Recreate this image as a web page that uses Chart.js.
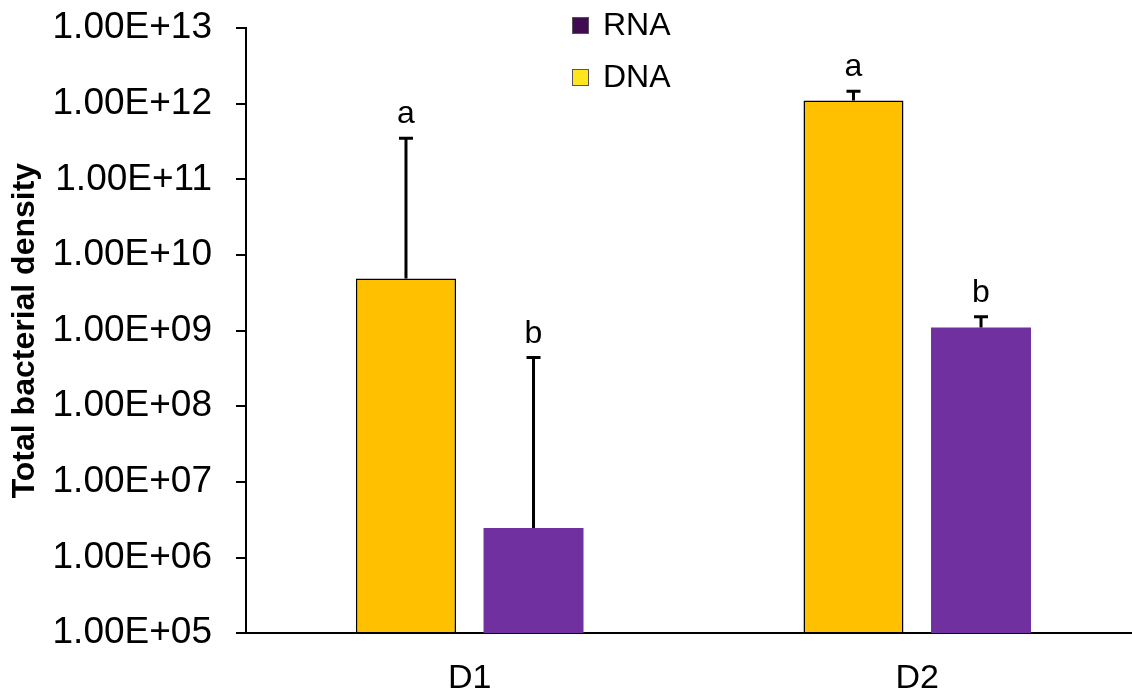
<!DOCTYPE html>
<html>
<head>
<meta charset="utf-8">
<script src="https://cdn.jsdelivr.net/npm/chart.js@4"></script>
<style>
  html, body { margin: 0; padding: 0; background: #fff; }
  #wrap { width: 1132px; height: 698px; }
</style>
</head>
<body>
<div id="wrap"><canvas id="chart"></canvas></div>
<script>
const categories = ['D1', 'D2']
const dnaValues = [4.9e9, 1.1e12]
const dnaErr = [3.44e11, 3.6e11]
const dnaLetters = ['a', 'a']
const rnaValues = [2.46e6, 1.1e9]
const rnaErr = [4.37e8, 4.3e8]
const rnaLetters = ['b', 'b']
const yTicks = [1e5, 1e6, 1e7, 1e8, 1e9, 1e10, 1e11, 1e12, 1e13]

const FONT = '"Liberation Sans", Arial, sans-serif'

// the original plot runs a little past the right edge of the picture
const widenPlot = {
  id: 'widenPlot',
  afterLayout(chart) {
    const x = chart.scales.x
    const extra = 9
    x.right += extra
    x.width += extra
    x.configure()
    chart.chartArea.right += extra
    chart.chartArea.width += extra
  }
}

// error bars (upper side only) and the letters above them
const errorBars = {
  id: 'errorBars',
  afterDatasetsDraw(chart) {
    const ctx = chart.ctx
    const y = chart.scales.y
    chart.data.datasets.forEach((ds, di) => {
      const meta = chart.getDatasetMeta(di)
      meta.data.forEach((bar, i) => {
        const top = y.getPixelForValue(ds.data[i] + ds.errPlus[i])
        ctx.save()
        ctx.strokeStyle = '#000'
        ctx.lineWidth = 3
        ctx.beginPath()
        ctx.moveTo(bar.x, bar.y)
        ctx.lineTo(bar.x, top)
        ctx.moveTo(bar.x - 7, top)
        ctx.lineTo(bar.x + 7, top)
        ctx.stroke()
        ctx.fillStyle = '#000'
        ctx.font = '32px ' + FONT
        ctx.textAlign = 'center'
        ctx.textBaseline = 'alphabetic'
        ctx.fillText(ds.letters[i], bar.x, top - 15)
        ctx.restore()
      })
    })
  }
}

// legend drawn as in the original: RNA above DNA, own swatch colours
const sideLegend = {
  id: 'sideLegend',
  afterDraw(chart) {
    const ctx = chart.ctx
    const items = [
      { text: 'RNA', color: '#400B50', y: 17 },
      { text: 'DNA', color: '#FFE51E', y: 69 }
    ]
    ctx.save()
    ctx.font = '32px ' + FONT
    ctx.textBaseline = 'middle'
    items.forEach(it => {
      ctx.fillStyle = it.color
      ctx.fillRect(572, it.y, 17, 17)
      ctx.strokeStyle = '#555'
      ctx.lineWidth = 1
      ctx.strokeRect(572.5, it.y + 0.5, 16, 16)
      ctx.fillStyle = '#000'
      ctx.fillText(it.text, 603, it.y + 9)
    })
    ctx.restore()
  }
}

const data = {
  labels: categories,
  datasets: [{
    label: 'DNA',
    data: dnaValues,
    errPlus: dnaErr,
    letters: dnaLetters,
    backgroundColor: '#FFC000',
    borderColor: '#000',
    borderWidth: 1.5,
    borderSkipped: false
  }, {
    label: 'RNA',
    data: rnaValues,
    errPlus: rnaErr,
    letters: rnaLetters,
    backgroundColor: '#7030A0',
    borderWidth: 0
  }]
}

const config = {
  type: 'bar',
  data: data,
  options: {
    responsive: true,
    maintainAspectRatio: false,
    animation: false,
    layout: { padding: { top: 28, right: 0, bottom: -18, left: 0 } },
    datasets: { bar: { categoryPercentage: 0.57, barPercentage: 0.784 } },
    plugins: { legend: { display: false }, tooltip: { enabled: false } },
    scales: {
      x: {
        grid: { display: false },
        border: { display: true, color: '#000', width: 2 },
        ticks: { color: '#000', font: { family: FONT, size: 34 }, padding: 17 }
      },
      y: {
        type: 'logarithmic',
        min: 1e5,
        max: 1e13,
        afterBuildTicks: scale => { scale.ticks = yTicks.map(v => ({ value: v })) },
        afterFit: scale => {
          scale.width = 246
          scale.paddingTop = 0
          scale.paddingBottom = 0
        },
        grid: { drawOnChartArea: false, drawTicks: true, tickLength: 10, color: '#000', lineWidth: 2 },
        border: { display: true, color: '#000', width: 2 },
        ticks: {
          color: '#000',
          font: { family: FONT, size: 37 },
          padding: 24,
          callback: v => '1.00E+' + String(Math.round(Math.log10(v))).padStart(2, '0')
        },
        title: {
          display: true,
          text: 'Total bacterial density',
          color: '#000',
          font: { family: FONT, size: 32, weight: 'bold' },
          padding: { top: 6, bottom: 0 }
        }
      }
    }
  },
  plugins: [widenPlot, errorBars, sideLegend]
}

let chart = new Chart(document.querySelector('#chart'), config)
</script>
</body>
</html>
